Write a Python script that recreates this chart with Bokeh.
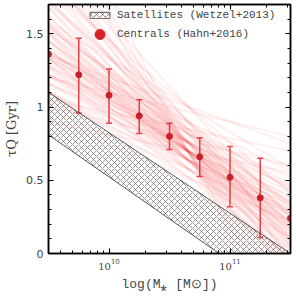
import math
from bokeh.plotting import figure
from bokeh.models import (ColumnDataSource, Whisker, TeeHead, LinearAxis, LogAxis,
                          Legend, LegendItem, Range1d, FixedTicker,
                          CustomJSTickFormatter, LogTickFormatter)
from bokeh.embed import file_html
from bokeh.resources import INLINE

# ---- data -------------------------------------------------------------
nan = float("nan")
log_mass = [9.5, 9.75, 10.0, 10.25, 10.5, 10.75, 11.0, 11.25, 11.5]
tau_q = [1.36, 1.22, 1.08, 0.94, 0.80, 0.66, 0.52, 0.38, 0.24]
tau_hi = [nan, 1.47, 1.26, 1.05, 0.89, 0.79, 0.73, 0.65, nan]
tau_lo = [nan, 0.96, 0.89, 0.82, 0.71, 0.525, 0.32, 0.11, nan]

# Wetzel+2013 satellite band (polygon corners in log M, tau)
sat_logm = [9.5, 11.5, 10.91, 9.5]
sat_tau = [1.10, 0.0, 0.0, 0.81]

# posterior sample lines: tau at log M = 9.5 (left) and 11.5 (right)
line_logm = [9.5, 11.5]
samp_left = [1.10, 1.16, 1.22, 1.28, 1.33, 1.39, 1.45, 1.51, 1.56, 1.62,
             1.74, 1.85, 1.97, 2.08, 2.25,
             1.16, 1.22, 1.28, 1.34, 1.39, 1.45, 1.51, 1.57, 1.62, 1.68,
             1.80, 1.91,
             1.04, 1.10, 1.16, 1.22, 1.27, 1.33, 1.39, 1.45, 1.50, 1.56,
             1.68,
             1.22, 1.34, 1.45, 1.57, 1.74, 1.97,
             0.98, 1.10, 1.21, 1.33, 1.50,
             1.30, 1.36, 1.42,
             1.00, 1.05, 0.90, 1.20, 2.40, 2.60,
             1.36, 1.53, 1.71, 1.88, 2.05,
             1.58, 1.81, 2.04, 1.35,
             1.37, 1.54, 1.71, 1.89,
             0.92, 1.10, 1.27]
samp_right = [0.40, 0.36, 0.32, 0.28, 0.23, 0.19, 0.15, 0.11, 0.06, 0.02,
              -0.07, -0.15, -0.24, -0.32, -0.45,
              0.46, 0.42, 0.38, 0.34, 0.29, 0.25, 0.21, 0.17, 0.12, 0.08,
              -0.01, -0.09,
              0.34, 0.30, 0.26, 0.22, 0.17, 0.13, 0.09, 0.05, 0.00, -0.04,
              -0.13,
              0.52, 0.44, 0.35, 0.27, 0.14, -0.03,
              0.28, 0.20, 0.11, 0.03, -0.10,
              0.27, 0.21, 0.17,
              0.60, 0.70, 0.55, 0.80, -0.55, -0.70,
              0.56, 0.43, 0.31, 0.18, 0.05,
              0.58, 0.41, 0.24, 0.75,
              0.47, 0.34, 0.21, 0.09,
              0.22, 0.10, -0.03]

y_ticks = [0.0, 0.5, 1.0, 1.5]
y_minor = [0.1, 0.2, 0.3, 0.4, 0.6, 0.7, 0.8, 0.9, 1.1, 1.2, 1.3, 1.4, 1.6]
x_ticks = [1e10, 1e11]
x_minor = [4e9, 5e9, 6e9, 7e9, 8e9, 9e9,
           2e10, 3e10, 4e10, 5e10, 6e10, 7e10, 8e10, 9e10, 2e11, 3e11]

# ---- figure -----------------------------------------------------------
mass = [10 ** v for v in log_mass]
p = figure(width=294, height=294, x_axis_type="log",
           x_range=Range1d(10 ** 9.5, 10 ** 11.5), y_range=Range1d(0, 1.7),
           output_backend="svg", toolbar_location=None,
           min_border_left=48, min_border_right=4, min_border_top=4,
           min_border_bottom=30)
p.xgrid.visible = False
p.ygrid.visible = False
p.outline_line_color = "black"
p.outline_line_width = 1.5

# faint posterior lines
xs = [[10 ** v for v in line_logm] for _ in samp_left]
ys = [[a, b] for a, b in zip(samp_left, samp_right)]
p.multi_line(xs=xs, ys=ys, line_color="#f03030", line_alpha=0.07, line_width=2.2)

# satellites hatched band
sat = p.patch([10 ** v for v in sat_logm], sat_tau, fill_alpha=0,
              line_color="#333333", line_width=0.8,
              hatch_pattern="x", hatch_color="#444444", hatch_scale=6,
              hatch_weight=0.6, hatch_alpha=0.9)

# centrals
src = ColumnDataSource(dict(m=mass, t=tau_q, hi=tau_hi, lo=tau_lo))
wh = Whisker(source=src, base="m", upper="hi", lower="lo",
             line_color="#e4474e", line_width=1.5,
             upper_head=TeeHead(size=6, line_color="#e4474e", line_width=1.5),
             lower_head=TeeHead(size=6, line_color="#e4474e", line_width=1.5))
p.add_layout(wh)
p.scatter("m", "t", source=src, size=6, color="#c8202a")
leg_dot = p.scatter(x=[nan], y=[nan], size=12, color="#d42228")

common = dict(label_text_font="Liberation Mono", label_text_font_size="11px",
              glyph_width=25, padding=0, margin=0, label_standoff=5,
              border_line_alpha=0, background_fill_alpha=0)
legend1 = Legend(items=[LegendItem(label="Satellites (Wetzel+2013)", renderers=[sat])],
                 location=(39, 232), glyph_height=8, label_height=8, **common)
legend2 = Legend(items=[LegendItem(label="Centrals (Hahn+2016)", renderers=[leg_dot])],
                 location=(39, 204), glyph_height=30, label_height=30, **common)
p.add_layout(legend1)
p.add_layout(legend2)

# axes
def style(ax):
    ax.axis_line_width = 1.5
    ax.major_tick_in = 5
    ax.major_tick_out = 0
    ax.minor_tick_in = 3
    ax.minor_tick_out = 0
    ax.major_tick_line_width = 1.2

p.yaxis.ticker = FixedTicker(ticks=y_ticks, minor_ticks=y_minor)
p.xaxis.ticker = FixedTicker(ticks=x_ticks, minor_ticks=x_minor)
p.xaxis.formatter = LogTickFormatter()
for ax in p.xaxis + p.yaxis:
    style(ax)
p.yaxis.major_label_text_font = "DejaVu Sans"
p.yaxis.major_label_text_font_size = "11px"
p.xaxis.major_label_text_font = "DejaVu Serif"
p.xaxis.major_label_text_font_size = "10px"
p.yaxis.axis_label = "τQ [Gyr]"
p.xaxis.axis_label = "log(M⁎ [M⊙])"
p.yaxis.axis_label_text_font = "DejaVu Serif"
p.xaxis.axis_label_text_font = "Liberation Mono"
for ax in p.xaxis + p.yaxis:
    ax.axis_label_text_font_style = "normal"
    ax.axis_label_text_font_size = "13px"
p.yaxis.axis_label_standoff = 4
p.xaxis.axis_label_standoff = 4

blank = CustomJSTickFormatter(code="return ''")
ra = LinearAxis(ticker=FixedTicker(ticks=y_ticks, minor_ticks=y_minor),
                formatter=blank, major_label_standoff=0)
ta = LogAxis(ticker=FixedTicker(ticks=x_ticks, minor_ticks=x_minor),
             formatter=blank, major_label_standoff=0)
style(ra)
style(ta)
p.add_layout(ra, "right")
p.add_layout(ta, "above")

open("out.html", "w").write(file_html(p, INLINE))
